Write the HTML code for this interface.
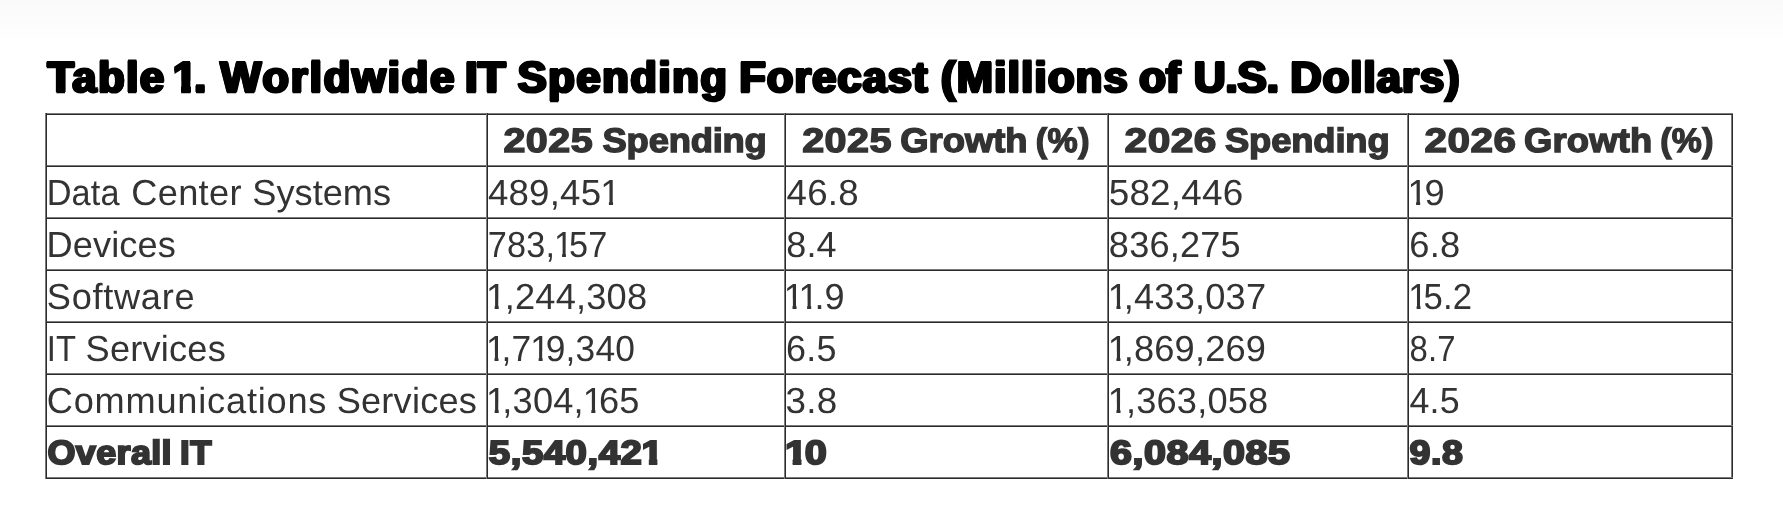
<!DOCTYPE html>
<html lang="en">
<head>
<meta charset="utf-8">
<title>Table 1. Worldwide IT Spending Forecast</title>
<style>
html,body{margin:0;padding:0;}
body{width:1783px;height:527px;position:relative;overflow:hidden;background:#fff;font-family:"Liberation Sans",Arial,sans-serif;}
.top{position:absolute;left:0;top:0;width:1783px;height:46px;background:linear-gradient(to bottom,#fafafa 0,#fbfbfb 10px,#fcfcfc 22px,#fefefe 36px,#fff 44px);}
.layer{position:absolute;left:0;top:0;width:1783px;height:527px;will-change:transform;}
h1{margin:0;padding:0;font-size:0;line-height:0;font-weight:inherit;height:0;}
table.grid{border-collapse:separate;border-spacing:0;table-layout:fixed;margin:113px 0 0 45px;width:1688px;}
.grid th,.grid td{padding:0;height:52px;font-size:0;line-height:0;font-weight:inherit;text-align:left;vertical-align:top;
background-repeat:no-repeat;
background-image:linear-gradient(to right,#7a7a7a 1px,#2b2b2b 1px,#2b2b2b 2px,transparent 2px),linear-gradient(to bottom,#7a7a7a 1px,#2b2b2b 1px,#2b2b2b 2px,transparent 2px);}
.grid tr>:last-child{background-image:linear-gradient(to right,#7a7a7a 1px,#2b2b2b 1px,#2b2b2b 2px,transparent 2px),linear-gradient(to bottom,#7a7a7a 1px,#2b2b2b 1px,#2b2b2b 2px,transparent 2px),linear-gradient(to left,#2b2b2b 1px,#7a7a7a 1px,#7a7a7a 2px,transparent 2px);}
.grid tr.last td{height:54px;background-image:linear-gradient(to right,#7a7a7a 1px,#2b2b2b 1px,#2b2b2b 2px,transparent 2px),linear-gradient(to bottom,#7a7a7a 1px,#2b2b2b 1px,#2b2b2b 2px,transparent 2px),linear-gradient(to top,#2b2b2b 1px,#7a7a7a 1px,#7a7a7a 2px,transparent 2px);}
.grid tr.last td:last-child{background-image:linear-gradient(to right,#7a7a7a 1px,#2b2b2b 1px,#2b2b2b 2px,transparent 2px),linear-gradient(to bottom,#7a7a7a 1px,#2b2b2b 1px,#2b2b2b 2px,transparent 2px),linear-gradient(to top,#2b2b2b 1px,#7a7a7a 1px,#7a7a7a 2px,transparent 2px),linear-gradient(to left,#2b2b2b 1px,#7a7a7a 1px,#7a7a7a 2px,transparent 2px);}
.t{position:absolute;left:0;top:0;white-space:nowrap;transform-origin:0 0;display:block;text-rendering:geometricPrecision;}
.t i{font-style:normal;display:inline-block;clip-path:polygon(-0.200em -0.300em,0.800em -0.300em,0.800em 0.546em,0.352em 0.546em,0.352em 1.400em,0.239em 1.400em,0.239em 0.546em,-0.200em 0.546em);}
.t i.b{clip-path:polygon(-0.200em -0.300em,0.800em -0.300em,0.800em 0.546em,0.412em 0.546em,0.412em 1.400em,0.192em 1.400em,0.192em 0.546em,-0.200em 0.546em);}
h1 .t{font-weight:700;color:#000;font-size:43.3px;line-height:43.3px;-webkit-text-stroke:2.4px #000;text-shadow:1.7px 0 0 #000,-1.7px 0 0 #000;}
th .t{font-weight:700;color:#333;font-size:34.0px;line-height:34.0px;-webkit-text-stroke:1.4px #333;}
td .t{font-weight:400;color:#333;font-size:36.2px;line-height:36.2px;}
tr.last td .t{font-weight:700;color:#333;font-size:33.6px;line-height:33.6px;-webkit-text-stroke:2.0px #333;}

</style>
</head>
<body>
<div class="top"></div>
<div class="layer">
<h1><span class="t" style="letter-spacing:1.68px;transform:translate(47.46px,57.00px);">Table</span> <span class="t" style="transform:translate(172.84px,57.00px);"><i class="b" style="margin:0 -2.80px 0 0;">1</i>.</span> <span class="t" style="letter-spacing:1.98px;transform:translate(220.36px,57.00px);">Worldwide</span> <span class="t" style="transform:translate(465.07px,57.00px) scaleX(1.0527);">IT</span> <span class="t" style="letter-spacing:1.70px;transform:translate(517.72px,57.00px);">Spending</span> <span class="t" style="letter-spacing:1.08px;transform:translate(739.33px,57.00px);">Forecast</span> <span class="t" style="letter-spacing:1.38px;transform:translate(941.07px,57.00px);">(Millions</span> <span class="t" style="transform:translate(1139.25px,57.00px) scaleX(1.0057);">of</span> <span class="t" style="transform:translate(1193.92px,57.00px) scaleX(1.0085);">U.S.</span> <span class="t" style="letter-spacing:1.15px;transform:translate(1290.33px,57.00px);">Dollars)</span></h1>
<table class="grid">
<colgroup><col style="width:441px"><col style="width:298px"><col style="width:323px"><col style="width:300px"><col style="width:326px"></colgroup>
<thead>
<tr><th></th><th><span class="t" style="letter-spacing:0.40px;transform:translate(503.43px,123.97px) scaleX(1.1602);">2025</span> <span class="t" style="letter-spacing:-0.19px;transform:translate(602.55px,123.97px) scaleX(1.0700);">Spending</span></th><th><span class="t" style="letter-spacing:0.40px;transform:translate(802.17px,123.97px) scaleX(1.1612);">2025</span> <span class="t" style="letter-spacing:0.00px;transform:translate(900.26px,123.97px) scaleX(1.0700);">Growth</span> <span class="t" style="letter-spacing:0.40px;transform:translate(1035.81px,123.97px) scaleX(0.9995);">(%)</span></th><th><span class="t" style="letter-spacing:0.40px;transform:translate(1124.60px,123.97px) scaleX(1.1958);">2026</span> <span class="t" style="letter-spacing:-0.13px;transform:translate(1224.93px,123.97px) scaleX(1.0700);">Spending</span></th><th><span class="t" style="letter-spacing:0.40px;transform:translate(1424.56px,123.97px) scaleX(1.1907);">2026</span> <span class="t" style="letter-spacing:0.16px;transform:translate(1524.00px,123.97px) scaleX(1.0700);">Growth</span> <span class="t" style="letter-spacing:0.40px;transform:translate(1660.20px,123.97px) scaleX(0.9929);">(%)</span></th></tr>
</thead>
<tbody>
<tr><td><span class="t" style="letter-spacing:0.20px;transform:translate(46.67px,175.11px) scaleX(0.9473);">Data</span> <span class="t" style="letter-spacing:0.31px;transform:translate(131.31px,175.11px);">Center</span> <span class="t" style="letter-spacing:0.01px;transform:translate(252.30px,175.11px);">Systems</span></td><td><span class="t" style="letter-spacing:0.20px;transform:translate(487.95px,175.11px) scaleX(1.0123);">489,45<i style="margin:0 0 0 -1.07px;">1</i></span></td><td><span class="t" style="letter-spacing:0.20px;transform:translate(786.61px,175.11px) scaleX(1.0127);">46.8</span></td><td><span class="t" style="letter-spacing:0.20px;transform:translate(1108.70px,175.11px) scaleX(1.0184);">582,446</span></td><td><span class="t" style="letter-spacing:0.20px;transform:translate(1407.43px,175.11px);"><i style="margin:0 -3.19px 0 0;">1</i>9</span></td></tr>
<tr><td><span class="t" style="letter-spacing:0.12px;transform:translate(46.50px,227.11px);">Devices</span></td><td><span class="t" style="letter-spacing:0.20px;transform:translate(487.70px,227.11px) scaleX(0.9465);">783,<i style="margin:0 -4.42px 0 -1.32px;">1</i>57</span></td><td><span class="t" style="letter-spacing:0.20px;transform:translate(786.19px,227.11px) scaleX(0.9942);">8.4</span></td><td><span class="t" style="letter-spacing:0.20px;transform:translate(1108.84px,227.11px) scaleX(0.9980);">836,275</span></td><td><span class="t" style="letter-spacing:0.20px;transform:translate(1409.30px,227.11px) scaleX(1.0015);">6.8</span></td></tr>
<tr><td><span class="t" style="letter-spacing:0.70px;transform:translate(46.80px,279.11px);">Software</span></td><td><span class="t" style="letter-spacing:0.20px;transform:translate(486.00px,279.11px);"><i style="margin:0 -1.55px 0 0;">1</i>,244,308</span></td><td><span class="t" style="letter-spacing:0.20px;transform:translate(783.87px,279.11px) scaleX(0.9958);"><i style="margin:0 -4.35px 0 0;">1</i><i style="margin:0 -4.35px 0 -1.31px;">1</i>.9</span></td><td><span class="t" style="letter-spacing:0.20px;transform:translate(1107.78px,279.11px) scaleX(0.9997);"><i style="margin:0 -4.34px 0 0;">1</i>,433,037</span></td><td><span class="t" style="letter-spacing:0.20px;transform:translate(1408.31px,279.11px) scaleX(0.9578);"><i style="margin:0 -4.41px 0 0;">1</i>5.2</span></td></tr>
<tr><td><span class="t" style="letter-spacing:0.20px;transform:translate(46.79px,331.11px) scaleX(0.9046);">IT</span> <span class="t" style="letter-spacing:0.21px;transform:translate(85.56px,331.11px);">Services</span></td><td><span class="t" style="letter-spacing:0.20px;transform:translate(486.04px,331.11px) scaleX(0.9769);"><i style="margin:0 -4.42px 0 0;">1</i>,7<i style="margin:0 -4.42px 0 -1.33px;">1</i>9,340</span></td><td><span class="t" style="letter-spacing:0.20px;transform:translate(786.07px,331.11px) scaleX(0.9919);">6.5</span></td><td><span class="t" style="letter-spacing:0.20px;transform:translate(1107.78px,331.11px);"><i style="margin:0 -4.45px 0 0;">1</i>,869,269</span></td><td><span class="t" style="letter-spacing:0.20px;transform:translate(1409.45px,331.11px) scaleX(0.9096);">8.7</span></td></tr>
<tr><td><span class="t" style="letter-spacing:0.78px;transform:translate(46.80px,383.11px);">Communications</span> <span class="t" style="letter-spacing:0.21px;transform:translate(336.63px,383.11px);">Services</span></td><td><span class="t" style="letter-spacing:0.20px;transform:translate(486.00px,383.11px);"><i style="margin:0 -4.00px 0 0;">1</i>,304,<i style="margin:0 -4.00px 0 -1.20px;">1</i>65</span></td><td><span class="t" style="letter-spacing:0.20px;transform:translate(785.53px,383.11px) scaleX(1.0173);">3.8</span></td><td><span class="t" style="letter-spacing:0.20px;transform:translate(1107.78px,383.11px);"><i style="margin:0 -2.18px 0 0;">1</i>,363,058</span></td><td><span class="t" style="letter-spacing:0.20px;transform:translate(1409.40px,383.11px) scaleX(0.9885);">4.5</span></td></tr>
<tr class="last"><td><span class="t" style="letter-spacing:0.35px;transform:translate(47.52px,436.91px) scaleX(1.0700);">Overall</span> <span class="t" style="letter-spacing:0.50px;transform:translate(179.91px,436.91px) scaleX(1.0393);">IT</span></td><td><span class="t" style="letter-spacing:0.50px;transform:translate(488.80px,436.91px) scaleX(1.1404);">5,540,42<i class="b" style="margin:0 0 0 -0.82px;">1</i></span></td><td><span class="t" style="letter-spacing:0.50px;transform:translate(785.05px,436.91px) scaleX(1.1800);"><i class="b" style="margin:0 -2.48px 0 0;">1</i>0</span></td><td><span class="t" style="letter-spacing:0.50px;transform:translate(1109.91px,436.91px) scaleX(1.1744);">6,084,085</span></td><td><span class="t" style="letter-spacing:0.50px;transform:translate(1409.60px,436.91px) scaleX(1.1195);">9.8</span></td></tr>
</tbody>
</table>
</div>
</body>
</html>
